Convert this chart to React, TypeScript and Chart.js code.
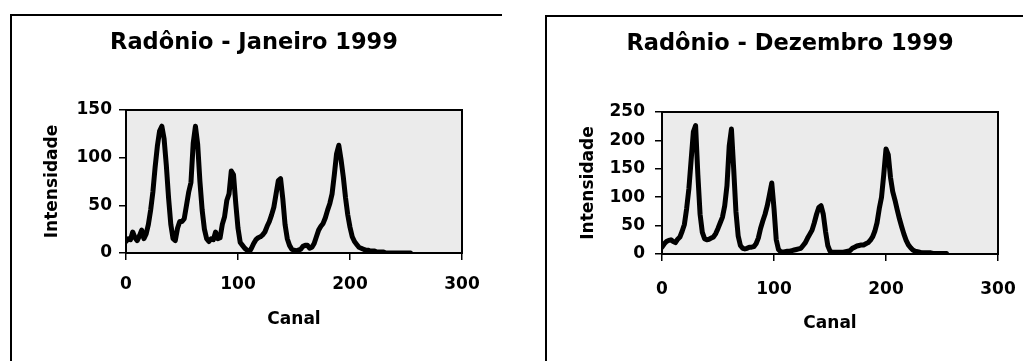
import React, { useEffect, useRef } from "react";
import { Chart, registerables } from "chart.js";

Chart.register(...registerables);

// Channel numbers (x values)
const channels = [
  0, 2, 4, 6, 8, 10, 12, 14, 16, 18,
  20, 22, 24, 26, 28, 30, 32, 34, 36, 38,
  40, 42, 44, 46, 48, 50, 52, 54, 56, 58,
  60, 62, 64, 66, 68, 70, 72, 74, 76, 78,
  80, 82, 84, 86, 88, 90, 92, 94, 96, 98,
  100, 102, 104, 106, 108, 110, 112, 114, 116, 118,
  120, 122, 124, 126, 128, 130, 132, 134, 136, 138,
  140, 142, 144, 146, 148, 150, 152, 154, 156, 158,
  160, 162, 164, 166, 168, 170, 172, 174, 176, 178,
  180, 182, 184, 186, 188, 190, 192, 194, 196, 198,
  200, 202, 204, 206, 208, 210, 212, 214, 216, 218,
  220, 222, 224, 226, 228, 230, 232, 234, 236, 238,
  240, 242, 244, 246, 248, 250, 252, 254,
];

// Intensity, January 1999
const janValues = [
  12, 15, 14, 22, 16, 13, 18, 24, 15, 20,
  30, 45, 64, 90, 112, 128, 133, 120, 92, 58,
  30, 15, 13, 26, 33, 33, 36, 50, 64, 74,
  115, 133, 114, 75, 45, 25, 15, 12, 15, 14,
  22, 15, 16, 30, 38, 55, 62, 86, 82, 52,
  26, 11, 8, 5, 3, 1, 5, 10, 14, 16,
  17, 19, 22, 28, 33, 40, 48, 62, 76, 78,
  57, 30, 15, 8, 4, 3, 2, 3, 4, 7,
  8, 8, 5, 6, 10, 17, 24, 28, 31, 37,
  45, 52, 62, 82, 104, 113, 98, 80, 58, 40,
  27, 17, 12, 9, 6, 5, 4, 3, 3, 2,
  2, 2, 1, 1, 1, 1, 0, 0, 0, 0,
  0, 0, 0, 0, 0, 0, 0, 0,
];

// Intensity, December 1999
const decValues = [
  12, 18, 22, 24, 25, 22, 20, 26, 30, 40,
  52, 80, 115, 165, 215, 226, 140, 70, 38, 27,
  25, 26, 28, 30, 36, 45, 55, 65, 85, 120,
  190, 220, 150, 75, 32, 15, 10, 9, 10, 12,
  12, 13, 18, 28, 45, 58, 70, 85, 105, 125,
  80, 25, 8, 4, 3, 4, 5, 5, 6, 7,
  8, 9, 10, 15, 20, 28, 35, 42, 55, 70,
  82, 85, 70, 40, 15, 5, 3, 3, 3, 3,
  3, 3, 4, 5, 6, 10, 12, 14, 15, 16,
  16, 18, 20, 24, 30, 40, 55, 80, 100, 140,
  185, 175, 135, 110, 95, 78, 62, 48, 35, 24,
  16, 11, 7, 5, 4, 3, 2, 2, 2, 2,
  2, 1, 1, 1, 1, 1, 1, 1,
];

const xTicks = [0, 100, 200, 300];
const janYTicks = [0, 50, 100, 150];
const decYTicks = [0, 50, 100, 150, 200, 250];

const janTitle = "Radônio - Janeiro 1999";
const decTitle = "Radônio - Dezembro 1999";
const xTitle = "Canal";
const yTitle = "Intensidade";

const FONT = "'DejaVu Sans', 'Liberation Sans', Arial, sans-serif";

type Layout = {
  width: number;
  height: number;
  rightWidth: number;
  titleTop: number;
  titleBottom: number;
  yWidth: number;
  yTitlePad: number;
  yTickPad: number;
  xHeight: number;
  xTitlePad: number;
  xTickPad: number;
};

const plotFrame = {
  id: "plotFrame",
  beforeDraw(chart: any) {
    const { ctx, chartArea: a } = chart;
    ctx.save();
    ctx.fillStyle = "#ebebeb";
    ctx.fillRect(a.left, a.top, a.right - a.left, a.bottom - a.top);
    ctx.restore();
  },
  afterDraw(chart: any) {
    const { ctx, chartArea: a } = chart;
    ctx.save();
    ctx.strokeStyle = "#000";
    ctx.lineWidth = 2;
    ctx.strokeRect(a.left, a.top, a.right - a.left, a.bottom - a.top);
    ctx.restore();
  },
};

function SpectrumChart(props: {
  title: string;
  values: number[];
  yTicks: number[];
  yMax: number;
  layout: Layout;
  style: React.CSSProperties;
}) {
  const ref = useRef<HTMLCanvasElement>(null);
  const { title, values, yTicks, yMax, layout: L, style } = props;

  useEffect(() => {
    if (!ref.current) return;
    const tickFont = { family: FONT, size: 17, weight: "bold" };
    const axisTitleFont = { family: FONT, size: 17, weight: "bold", lineHeight: 1.2 };
    const chart = new Chart(ref.current, {
      type: "line",
      data: {
        datasets: [
          {
            data: channels.map((c, i) => ({ x: c, y: values[i] })),
            borderColor: "#000",
            borderWidth: 5,
            borderJoinStyle: "round",
            borderCapStyle: "round",
            pointRadius: 0,
            tension: 0,
            fill: false,
          },
        ],
      },
      options: {
        animation: false,
        responsive: false,
        events: [],
        layout: { padding: 0 },
        plugins: {
          legend: { display: false },
          tooltip: { enabled: false },
          title: {
            display: true,
            text: title,
            color: "#000",
            font: { family: FONT, size: 22.5, weight: "bold", lineHeight: 1.2 },
            padding: { top: L.titleTop, bottom: L.titleBottom },
          },
        },
        scales: {
          x: {
            type: "linear",
            min: 0,
            max: 300,
            afterBuildTicks: (s: any) => {
              s.ticks = xTicks.map((v) => ({ value: v }));
            },
            afterFit: (s: any) => {
              s.height = L.xHeight;
            },
            ticks: {
              color: "#000",
              font: tickFont,
              padding: L.xTickPad,
              maxRotation: 0,
            },
            grid: {
              drawOnChartArea: false,
              drawTicks: true,
              tickLength: 7,
              color: "#000",
              lineWidth: 1.5,
            },
            border: { color: "#000", width: 2 },
            title: {
              display: true,
              text: xTitle,
              color: "#000",
              font: axisTitleFont,
              padding: { top: 0, bottom: L.xTitlePad },
            },
          },
          y: {
            type: "linear",
            position: "left",
            min: 0,
            max: yMax,
            afterBuildTicks: (s: any) => {
              s.ticks = yTicks.map((v) => ({ value: v }));
            },
            afterFit: (s: any) => {
              s.width = L.yWidth;
            },
            ticks: {
              color: "#000",
              font: tickFont,
              padding: L.yTickPad,
            },
            grid: {
              drawOnChartArea: false,
              drawTicks: true,
              tickLength: 7,
              color: "#000",
              lineWidth: 1.5,
            },
            border: { color: "#000", width: 2 },
            title: {
              display: true,
              text: yTitle,
              color: "#000",
              font: axisTitleFont,
              padding: { top: L.yTitlePad, bottom: 0 },
            },
          },
          spacer: {
            type: "linear",
            position: "right",
            display: true,
            min: 0,
            max: 1,
            ticks: { display: false },
            grid: { display: false, drawTicks: false },
            border: { display: false },
            afterFit: (s: any) => {
              s.width = L.rightWidth;
            },
          },
        },
      },
      plugins: [plotFrame],
    } as any);
    return () => chart.destroy();
  }, []);

  return (
    <canvas
      ref={ref}
      width={L.width}
      height={L.height}
      style={{ position: "absolute", display: "block", ...style }}
    />
  );
}

const janLayout: Layout = {
  width: 508,
  height: 361,
  rightWidth: 46,
  titleTop: 30,
  titleBottom: 53,
  yWidth: 126,
  yTitlePad: 42,
  yTickPad: 7,
  xHeight: 108,
  xTitlePad: 31,
  xTickPad: 14,
};

const decLayout: Layout = {
  width: 540,
  height: 361,
  rightWidth: 62,
  titleTop: 31,
  titleBottom: 54,
  yWidth: 142,
  yTitlePad: 58,
  yTickPad: 10,
  xHeight: 107,
  xTitlePad: 27,
  xTickPad: 18,
};

export default function App() {
  return (
    <div
      style={{
        position: "absolute",
        left: 0,
        top: 0,
        width: 1023,
        height: 361,
        overflow: "hidden",
        background: "#fff",
      }}
    >
      <div
        style={{
          position: "absolute",
          left: 10,
          top: 14,
          width: 490,
          height: 400,
          borderTop: "2px solid #000",
          borderLeft: "2px solid #000",
        }}
      />
      <div
        style={{
          position: "absolute",
          left: 545,
          top: 15,
          width: 490,
          height: 400,
          borderTop: "2px solid #000",
          borderLeft: "2px solid #000",
        }}
      />
      <SpectrumChart
        title={janTitle}
        values={janValues}
        yTicks={janYTicks}
        yMax={150}
        layout={janLayout}
        style={{ left: 0, top: 0 }}
      />
      <SpectrumChart
        title={decTitle}
        values={decValues}
        yTicks={decYTicks}
        yMax={250}
        layout={decLayout}
        style={{ left: 520, top: 0 }}
      />
    </div>
  );
}
